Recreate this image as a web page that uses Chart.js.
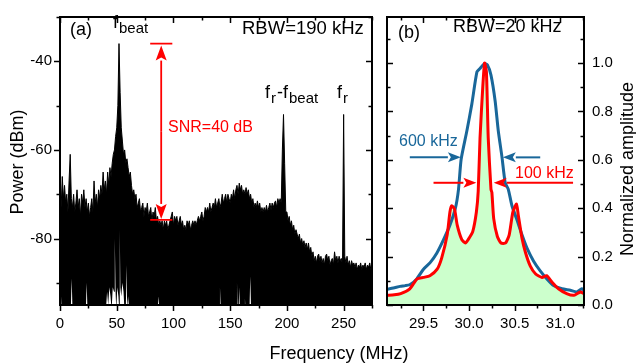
<!DOCTYPE html>
<html>
<head>
<meta charset="utf-8">
<script src="https://cdn.jsdelivr.net/npm/chart.js@4.4.1/dist/chart.umd.min.js"></script>
<style>
    html, body { margin: 0; padding: 0; background: #fff; }
    #wrap { position: relative; width: 636px; height: 364px; overflow: hidden; }
    canvas { position: absolute; top: 0; }
    #ca { left: 0; }
    #cb { left: 380px; }
    #ct { left: 0; pointer-events: none; }
</style>
</head>
<body>
<div id="wrap">
    <canvas id="ca" width="380" height="364" style="width:380px;height:364px"></canvas>
    <canvas id="cb" width="256" height="364" style="width:256px;height:364px"></canvas>
    <canvas id="ct" width="636" height="364" style="width:636px;height:364px"></canvas>
</div>
<script>
// (a) spectrum upper envelope (MHz / dBm)
const specFreq = [
    0, 1, 2, 3, 4, 5, 6, 7, 8, 9,
    10, 11, 12, 13, 14, 15, 16, 17, 18, 19,
    20, 21, 22, 23, 24, 25, 26, 27, 28, 29,
    30, 31, 32, 33, 34, 35, 36, 37, 38, 39,
    40, 41, 42, 43, 44, 45, 46, 47, 48, 49,
    50, 51, 52, 53, 54, 55, 56, 57, 58, 59,
    60, 61, 62, 63, 64, 65, 66, 67, 68, 69,
    70, 71, 72, 73, 74, 75, 76, 77, 78, 79,
    80, 81, 82, 83, 84, 85, 86, 87, 88, 89,
    90, 91, 92, 93, 94, 95, 96, 97, 98, 99,
    100, 101, 102, 103, 104, 105, 106, 107, 108, 109,
    110, 111, 112, 113, 114, 115, 116, 117, 118, 119,
    120, 121, 122, 123, 124, 125, 126, 127, 128, 129,
    130, 131, 132, 133, 134, 135, 136, 137, 138, 139,
    140, 141, 142, 143, 144, 145, 146, 147, 148, 149,
    150, 151, 152, 153, 154, 155, 156, 157, 158, 159,
    160, 161, 162, 163, 164, 165, 166, 167, 168, 169,
    170, 171, 172, 173, 174, 175, 176, 177, 178, 179,
    180, 181, 182, 183, 184, 185, 186, 187, 188, 189,
    190, 191, 192, 193, 194, 195, 196, 197, 198, 199,
    200, 201, 202, 203, 204, 205, 206, 207, 208, 209,
    210, 211, 212, 213, 214, 215, 216, 217, 218, 219,
    220, 221, 222, 223, 224, 225, 226, 227, 228, 229,
    230, 231, 232, 233, 234, 235, 236, 237, 238, 239,
    240, 241, 242, 243, 244, 245, 246, 247, 248, 249,
    250, 251, 252, 253, 254, 255, 256, 257, 258, 259,
    260, 261, 262, 263, 264, 265, 266, 267, 268, 269,
    270, 271, 272, 273, 274, 275
];
const specPower = [
    -69, -73, -66, -71, -68, -72, -70, -74, -67, -61,
    -71, -73, -70, -74, -72, -69, -73, -71, -75, -70,
    -72, -69, -73, -71, -74, -72, -75, -73, -71, -74,
    -67, -72, -70, -73, -69, -71, -68, -70, -65, -69,
    -67, -70, -65, -68, -64, -66, -63, -61, -60, -57,
    -55, -50, -36, -47, -55, -58, -61, -60, -63, -62,
    -64, -66, -65, -68, -70, -69, -71, -70, -73, -72,
    -71, -74, -73, -72, -75, -73, -74, -72, -75, -74,
    -73, -76, -74, -75, -73, -76, -75, -77, -76, -77,
    -76, -78, -76, -77, -76, -78, -77, -76, -75, -74,
    -77, -75, -76, -75, -77, -76, -75, -77, -76, -78,
    -77, -78, -76, -77, -76, -78, -77, -76, -77, -76,
    -77, -76, -75, -76, -75, -74, -76, -75, -73, -74,
    -73, -74, -72, -74, -73, -72, -73, -71, -73, -72,
    -71, -73, -72, -70, -72, -71, -70, -72, -70, -71,
    -72, -70, -71, -69, -71, -69, -68, -70, -67.5, -69,
    -68, -70, -69, -70, -68.5, -70, -69, -71, -70, -72,
    -71, -73, -72, -73, -71.5, -73, -72, -74, -73, -74,
    -73, -74, -72.5, -74, -73, -72, -73.5, -72, -73, -72,
    -71.5, -73, -71, -72, -71, -72, -60, -52, -63, -74,
    -74, -76, -75, -77, -76, -78, -77, -79, -78, -79,
    -80, -79, -81, -80, -81.5, -80.5, -82, -81, -82.5, -81,
    -83, -82, -84, -83, -85, -84, -85.5, -84, -83.5, -85,
    -84, -85.5, -84.5, -86, -84, -83.5, -85, -84, -86, -85,
    -84.5, -86, -83, -85, -84, -85.5, -84, -85, -84.5, -86,
    -52, -84, -85.5, -84, -86, -85, -86.5, -85, -86, -85.5,
    -86.5, -85.5, -87, -86, -86.5, -85.5, -87, -86, -86.5, -85.5,
    -87, -86, -86.5, -85.5, -87, -86
];
// white gaps at the bottom of the trace (lower envelope)
const gapFreq = [
    0, 1, 1.5, 2, 9.5, 10.3, 11, 22.8, 23.5, 24.2,
    40.5, 41.5, 42.5, 43.5, 44.5, 45.5, 46.5, 47.6, 48.3, 49,
    49.6, 50.5, 51.5, 52.2, 52.7, 53.2, 54, 55, 56, 56.8,
    58, 58.6, 59.2, 60, 61,
    86.1, 86.8, 87.5, 140.3, 141, 141.7, 155.5, 156, 156.5, 157.5,
    158, 158.5, 162.5, 163, 163.5, 167, 167.7, 168.4, 275
];
const gapPower = [
    -96, -96, -93, -96, -96, -89, -96, -96, -90, -96,
    -96, -92, -95, -91, -93, -96, -91, -92, -80, -92,
    -96, -91, -93, -96, -78, -91, -93, -90, -92, -96,
    -96, -86, -96, -93, -96,
    -96, -93, -96, -96, -91, -96, -96, -90, -96, -96,
    -91, -96, -96, -93.5, -96, -96, -88.5, -96, -96
];

// (b) beat note line shapes, normalized
const redFreq = [
    29.10, 29.18, 29.25, 29.35, 29.43, 29.50, 29.57, 29.65, 29.70, 29.76,
    29.79, 29.81, 29.84, 29.87, 29.92, 29.96, 29.99, 30.04, 30.08, 30.10,
    30.12, 30.15, 30.17, 30.19, 30.21, 30.24, 30.25, 30.27, 30.31, 30.35,
    30.40, 30.44, 30.48, 30.52, 30.54, 30.58, 30.62, 30.67, 30.73, 30.80,
    30.85, 30.91, 30.98, 31.07, 31.15, 31.22, 31.26
];
const redAmp = [
    0.040, 0.042, 0.047, 0.067, 0.108, 0.114, 0.121, 0.148, 0.195, 0.29,
    0.384, 0.41, 0.397, 0.33, 0.27, 0.256, 0.27, 0.303, 0.384, 0.47,
    0.69, 0.90, 1.0, 0.963, 0.69, 0.478, 0.465, 0.357, 0.283, 0.256,
    0.256, 0.29, 0.384, 0.417, 0.37, 0.276, 0.215, 0.162, 0.128, 0.114,
    0.121, 0.094, 0.067, 0.047, 0.040, 0.054, 0.047
];
const blueFreq = [
    29.10, 29.17, 29.245, 29.30, 29.354, 29.427, 29.50, 29.573, 29.647, 29.72,
    29.79, 29.85, 29.884, 29.913, 29.976, 30.03, 30.086, 30.12, 30.166, 30.20,
    30.24, 30.286, 30.32, 30.36, 30.396, 30.43, 30.47, 30.52, 30.58, 30.634,
    30.706, 30.78, 30.853, 30.926, 31.018, 31.11, 31.18, 31.237, 31.26
];
const blueAmp = [
    0.065, 0.07, 0.077, 0.08, 0.085, 0.108, 0.148, 0.175, 0.215, 0.27,
    0.33, 0.40, 0.478, 0.602, 0.72, 0.83, 0.963, 0.977, 0.997, 0.993,
    0.95, 0.842, 0.72, 0.613, 0.505, 0.478, 0.41, 0.357, 0.29, 0.236,
    0.182, 0.141, 0.108, 0.081, 0.067, 0.061, 0.054, 0.067, 0.06
];

// tick values
const xTicksA = [0, 50, 100, 150, 200, 250];
const xMinorA = [25, 75, 125, 175, 225, 275];
const yTicksA = [-80, -60, -40];
const yMinorA = [-90, -70, -50, -30];
const xTicksB = [29.5, 30.0, 30.5, 31.0];
const xMinorB = [29.25, 29.75, 30.25, 30.75, 31.25];
const yTicksB = [0, 0.2, 0.4, 0.6, 0.8, 1.0];
const yMinorB = [0.1, 0.3, 0.5, 0.7, 0.9, 1.1];

const FONT = '"Liberation Sans", Arial, Helvetica, sans-serif';
const BLUE = '#19679a';
const RED = '#ff0000';

function drawText(ctx, str, x, y, size, color, align = 'left') {
    ctx.font = `${size}px ${FONT}`;
    ctx.fillStyle = color;
    ctx.textAlign = align;
    ctx.textBaseline = 'alphabetic';
    ctx.fillText(str, x, y);
}

// main text + subscript, returns end x
function drawSub(ctx, main, sub, x, y) {
    drawText(ctx, main, x, y, 18, '#000');
    const w = ctx.measureText(main).width;
    drawText(ctx, sub, x + w + 1, y + 5, 15, '#000');
    return x + w + 1 + ctx.measureText(sub).width;
}

function arrow(ctx, x1, y1, x2, y2, color, lw, headLen, headW) {
    const ang = Math.atan2(y2 - y1, x2 - x1);
    const bx = x2 - headLen * Math.cos(ang), by = y2 - headLen * Math.sin(ang);
    ctx.strokeStyle = color;
    ctx.lineWidth = lw;
    ctx.beginPath(); ctx.moveTo(x1, y1); ctx.lineTo(bx, by); ctx.stroke();
    ctx.fillStyle = color;
    ctx.beginPath();
    ctx.moveTo(x2, y2);
    ctx.lineTo(bx + headW / 2 * Math.sin(ang), by - headW / 2 * Math.cos(ang));
    ctx.lineTo(bx + 3 * Math.cos(ang), by + 3 * Math.sin(ang));
    ctx.lineTo(bx - headW / 2 * Math.sin(ang), by + headW / 2 * Math.cos(ang));
    ctx.closePath();
    ctx.fill();
}

// frame + major/minor ticks (bottom & left outward where asked, rest inward)
function frameTicks(xMaj, xMin, yMaj, yMin, leftOut) {
    return {
        id: 'frameTicks',
        afterDraw(chart) {
            const { ctx, chartArea: a, scales: { x, y } } = chart;
            ctx.save();
            ctx.strokeStyle = '#000';
            ctx.lineWidth = 1.5;
            const seg = (x1, y1, x2, y2) => { ctx.beginPath(); ctx.moveTo(x1, y1); ctx.lineTo(x2, y2); ctx.stroke(); };
            const xt = (vals, len) => vals.forEach(v => {
                const px = Math.round(x.getPixelForValue(v)) + 0.5;
                if (px < a.left - 1 || px > a.right + 1) return;
                seg(px, a.bottom, px, a.bottom + len);
                seg(px, a.top, px, a.top + len);
            });
            const yt = (vals, len) => vals.forEach(v => {
                const py = Math.round(y.getPixelForValue(v)) + 0.5;
                if (py < a.top - 1 || py > a.bottom + 1) return;
                seg(a.left, py, leftOut ? a.left - len : a.left + len, py);
                seg(a.right, py, a.right - len, py);
            });
            xt(xMaj, 6); xt(xMin, 3.5);
            yt(yMaj, 6); yt(yMin, 3.5);
            ctx.lineWidth = 2;
            ctx.strokeRect(a.left, a.top, a.right - a.left, a.bottom - a.top);
            ctx.restore();
        }
    };
}

const annotA = {
    id: 'annotA',
    afterDraw(chart) {
        const { ctx, scales: { x, y } } = chart;
        ctx.save();
        drawText(ctx, '(a)', 70, 35, 18, '#000');
        drawSub(ctx, 'f', 'beat', 113, 28);
        drawText(ctx, 'RBW=190 kHz', 242, 34, 18.5, '#000');
        const e1 = drawSub(ctx, 'f', 'r', 265, 98);
        drawSub(ctx, '-f', 'beat', e1 + 1, 98);
        drawSub(ctx, 'f', 'r', 337, 98);
        // SNR marker
        const ax = x.getPixelForValue(89.2);
        const yTop = y.getPixelForValue(-36), yBot = y.getPixelForValue(-75.8);
        const xl = x.getPixelForValue(79.5), xr = x.getPixelForValue(99);
        ctx.strokeStyle = RED;
        ctx.lineWidth = 1.8;
        ctx.beginPath();
        ctx.moveTo(xl, yTop); ctx.lineTo(xr, yTop);
        ctx.moveTo(xl, yBot); ctx.lineTo(xr, yBot);
        ctx.stroke();
        const mid = (yTop + yBot) / 2;
        arrow(ctx, ax, mid, ax, yTop + 2, RED, 1.8, 15, 11);
        arrow(ctx, ax, mid, ax, yBot - 1, RED, 1.8, 15, 11);
        drawText(ctx, 'SNR=40 dB', 168, 132, 16, RED);
        ctx.restore();
    }
};

const annotB = {
    id: 'annotB',
    afterDraw(chart) {
        const { ctx, scales: { x, y } } = chart;
        ctx.save();
        drawText(ctx, '(b)', 18, 38, 18, '#000');
        drawText(ctx, 'RBW=20 kHz', 73, 32, 18, '#000');
        drawText(ctx, '600 kHz', 19, 146, 16, BLUE);
        drawText(ctx, '100 kHz', 135, 178, 16, RED);
        const yb = y.getPixelForValue(0.61), yr = y.getPixelForValue(0.505);
        arrow(ctx, x.getPixelForValue(29.35), yb, x.getPixelForValue(29.91), yb, BLUE, 2, 13, 10);
        arrow(ctx, x.getPixelForValue(30.78), yb, x.getPixelForValue(30.37), yb, BLUE, 2, 13, 10);
        arrow(ctx, x.getPixelForValue(29.61), yr, x.getPixelForValue(30.08), yr, RED, 2, 13, 10);
        arrow(ctx, x.getPixelForValue(31.14), yr, x.getPixelForValue(30.27), yr, RED, 2, 13, 10);
        // right axis title
        ctx.translate(253, 169);
        ctx.rotate(-Math.PI / 2);
        drawText(ctx, 'Normalized amplitude', 0, 0, 18, '#000', 'center');
        ctx.restore();
    }
};

const tickFont = { size: 15, family: FONT };
const pts = (xs, ys) => xs.map((f, i) => ({ x: f, y: ys[i] }));

new Chart(document.getElementById('ca'), {
    type: 'line',
    data: {
        datasets: [{
            // drawn last: white slivers cut into the bottom of the trace
            data: pts(gapFreq, gapPower),
            borderWidth: 0,
            backgroundColor: '#fff',
            pointRadius: 0,
            fill: 'start',
            tension: 0
        }, {
            data: pts(specFreq, specPower),
            borderColor: '#000',
            backgroundColor: '#000',
            borderWidth: 1,
            pointRadius: 0,
            fill: 'start',
            tension: 0
        }]
    },
    options: {
        responsive: false,
        animation: false,
        layout: { padding: { top: 10, right: 8, left: 0, bottom: 0 } },
        plugins: { legend: { display: false }, tooltip: { enabled: false } },
        scales: {
            x: {
                type: 'linear', min: 0, max: 275,
                grid: { display: false, drawTicks: false }, border: { display: false },
                afterBuildTicks: s => { s.ticks = xTicksA.map(v => ({ value: v })); },
                afterFit: s => { s.height = 59; },
                ticks: { font: tickFont, color: '#000', padding: 10, autoSkip: false, maxRotation: 0, callback: v => String(v) }
            },
            y: {
                min: -95, max: -30,
                grid: { display: false, drawTicks: false }, border: { display: false },
                afterBuildTicks: s => { s.ticks = yTicksA.map(v => ({ value: v })); },
                afterFit: s => { s.width = 60; },
                ticks: { font: tickFont, color: '#000', padding: 8, autoSkip: false, callback: v => String(v) }
            }
        }
    },
    plugins: [frameTicks(xTicksA, xMinorA, yTicksA, yMinorA, true), annotA]
});

new Chart(document.getElementById('cb'), {
    type: 'line',
    data: {
        datasets: [{
            data: pts(redFreq, redAmp),
            borderColor: RED,
            backgroundColor: '#ccffcc',
            borderWidth: 3,
            pointRadius: 0,
            fill: 'origin',
            tension: 0.2
        }, {
            data: pts(blueFreq, blueAmp),
            borderColor: BLUE,
            borderWidth: 3,
            pointRadius: 0,
            fill: false,
            tension: 0.2
        }]
    },
    options: {
        responsive: false,
        animation: false,
        layout: { padding: { top: 10, right: 0, left: 7, bottom: 0 } },
        plugins: { legend: { display: false }, tooltip: { enabled: false }, filler: { drawTime: 'beforeDatasetsDraw' } },
        scales: {
            x: {
                type: 'linear', min: 29.1, max: 31.26,
                grid: { display: false, drawTicks: false }, border: { display: false },
                afterBuildTicks: s => { s.ticks = xTicksB.map(v => ({ value: v })); },
                afterFit: s => { s.height = 59; },
                ticks: { font: tickFont, color: '#000', padding: 10, autoSkip: false, maxRotation: 0, callback: v => v.toFixed(1) }
            },
            y: {
                position: 'right', min: 0, max: 1.19,
                grid: { display: false, drawTicks: false }, border: { display: false },
                afterBuildTicks: s => { s.ticks = yTicksB.map(v => ({ value: v })); },
                afterFit: s => { s.width = 52; },
                ticks: { font: tickFont, color: '#000', padding: 8, autoSkip: false, callback: v => v.toFixed(1) }
            }
        }
    },
    plugins: [frameTicks(xTicksB, xMinorB, yTicksB, yMinorB, false), annotB]
});

// shared axis titles
const tctx = document.getElementById('ct').getContext('2d');
drawText(tctx, 'Frequency (MHz)', 339, 359, 18, '#000', 'center');
tctx.save();
tctx.translate(23, 162);
tctx.rotate(-Math.PI / 2);
drawText(tctx, 'Power (dBm)', 0, 0, 18, '#000', 'center');
tctx.restore();
</script>
</body>
</html>
